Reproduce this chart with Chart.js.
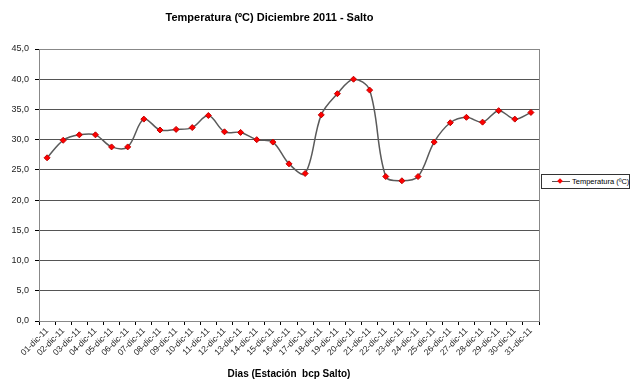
<!DOCTYPE html>
<html>
<head>
<meta charset="utf-8">
<script src="https://cdn.jsdelivr.net/npm/chart.js@4"></script>
<style>
  body { margin: 0; background: #fff; }
  #wrap { position: relative; width: 640px; height: 391px; }
  #legend {
    position: absolute; left: 541px; top: 174px; width: 87px; height: 13px;
    border: 1px solid #333; font: 7.5px Arial, 'Liberation Sans', sans-serif;
    color: #000; display: flex; align-items: center; background: #fff;
    white-space: nowrap; overflow: visible;
  }
  #legend .ln { position: relative; flex: none; width: 18px; height: 1px; background: #555; margin: 0 2px 0 10px; }
  #legend .mk { position: absolute; left: 6px; top: -2px; width: 4px; height: 4px;
    background: #f00; transform: rotate(45deg); }
</style>
</head>
<body>
<div id="wrap">
  <canvas id="chart" width="640" height="391"></canvas>
  <div id="legend"><span class="ln"><span class="mk"></span></span>Temperatura (ºC)</div>
</div>
<script>
const days = ['01-dic-11','02-dic-11','03-dic-11','04-dic-11','05-dic-11','06-dic-11','07-dic-11',
  '08-dic-11','09-dic-11','10-dic-11','11-dic-11','12-dic-11','13-dic-11','14-dic-11','15-dic-11',
  '16-dic-11','17-dic-11','18-dic-11','19-dic-11','20-dic-11','21-dic-11','22-dic-11','23-dic-11',
  '24-dic-11','25-dic-11','26-dic-11','27-dic-11','28-dic-11','29-dic-11','30-dic-11','31-dic-11'];
const temperatura = [27.0, 29.9, 30.8, 30.8, 28.8, 28.8, 33.4, 31.6, 31.7, 32.0, 34.0, 31.3, 31.2,
  30.0, 29.6, 26.0, 24.4, 34.1, 37.6, 40.0, 38.2, 23.9, 23.2, 23.9, 29.6, 32.8, 33.7, 32.9, 34.8,
  33.4, 34.5];

const font = "Arial, 'Liberation Sans', sans-serif";

// gray frame round the plot area
const plotFrame = {
  id: 'plotFrame',
  beforeDatasetsDraw(chart) {
    const a = chart.chartArea, ctx = chart.ctx;
    ctx.save();
    ctx.strokeStyle = '#888';
    ctx.lineWidth = 1;
    ctx.strokeRect(a.left + 0.5, a.top + 0.5, a.right - a.left, a.bottom - a.top);
    ctx.restore();
  }
};

new Chart(document.getElementById('chart'), {
  type: 'line',
  data: {
    labels: days,
    datasets: [{
      label: 'Temperatura (ºC)',
      data: temperatura,
      borderColor: '#5a5a5a',
      borderWidth: 1.5,
      tension: 0.35,
      pointStyle: 'rectRot',
      pointRadius: 3,
      pointBackgroundColor: '#ff0000',
      pointBorderColor: '#c00000',
      pointBorderWidth: 1
    }]
  },
  options: {
    responsive: false,
    animation: false,
    layout: { padding: { left: 0, right: 101, top: 0, bottom: 7 } },
    plugins: {
      legend: { display: false },
      tooltip: { enabled: false },
      title: {
        display: true,
        text: 'Temperatura (ºC) Diciembre 2011 - Salto',
        color: '#000',
        font: { family: font, size: 11, weight: 'bold' },
        padding: { top: 11, bottom: 24.8 }
      }
    },
    scales: {
      x: {
        offset: true,
        afterFit(scale) { scale.height = 63; },
        grid: { offset: true, drawOnChartArea: false, tickLength: 4, color: '#000' },
        border: { color: '#000', width: 1 },
        ticks: {
          autoSkip: false, maxRotation: 45, minRotation: 45,
          color: '#222', font: { family: font, size: 8.5 }, padding: 1
        },
        title: {
          display: true,
          text: 'Dias (Estación  bcp Salto)',
          color: '#000',
          font: { family: font, size: 10, weight: 'bold' },
          padding: { top: 0, bottom: 4 }
        }
      },
      y: {
        min: 0, max: 45,
        afterFit(scale) { scale.width = 39; },
        grid: { color: '#555', tickLength: 4, tickColor: '#000' },
        border: { color: '#000', width: 1 },
        ticks: {
          stepSize: 5, padding: 6, color: '#222',
          font: { family: font, size: 9 },
          callback: v => v.toFixed(1).replace('.', ',')
        }
      }
    }
  },
  plugins: [plotFrame]
});
</script>
</body>
</html>
